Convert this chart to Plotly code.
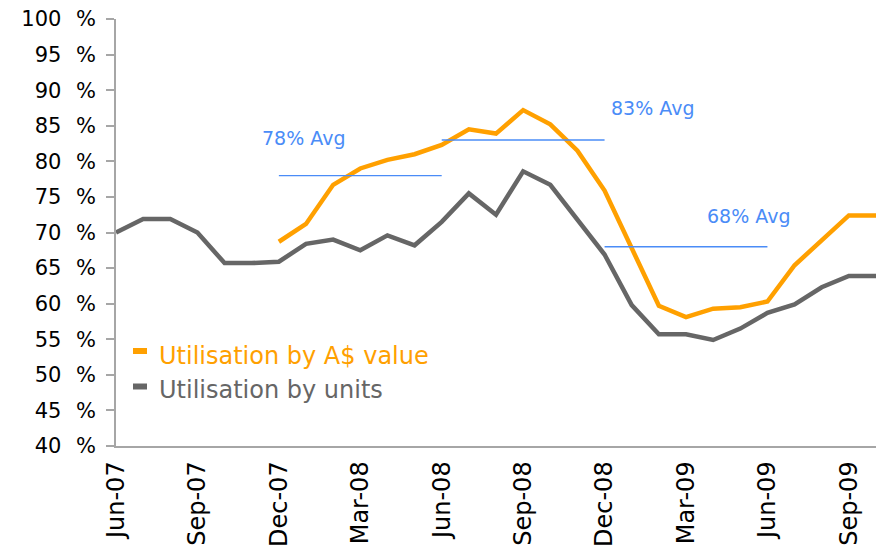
import plotly.graph_objects as go

months = ["Jun-07","Jul-07","Aug-07","Sep-07","Oct-07","Nov-07","Dec-07",
          "Jan-08","Feb-08","Mar-08","Apr-08","May-08","Jun-08","Jul-08",
          "Aug-08","Sep-08","Oct-08","Nov-08","Dec-08","Jan-09","Feb-09",
          "Mar-09","Apr-09","May-09","Jun-09","Jul-09","Aug-09","Sep-09","Oct-09"]

units = [70.0, 71.9, 71.9, 70.0, 65.7, 65.7, 65.9, 68.4, 69.0, 67.5, 69.6, 68.2,
         71.5, 75.5, 72.5, 78.6, 76.7, 71.8, 66.9, 59.8, 55.7, 55.7, 54.9, 56.5,
         58.7, 59.9, 62.3, 63.9, 63.9]

value = [None, None, None, None, None, None, 68.7, 71.2, 76.7, 79.0, 80.2, 81.0,
         82.3, 84.5, 83.9, 87.2, 85.2, 81.5, 75.9, 67.8, 59.7, 58.1, 59.3, 59.5,
         60.3, 65.4, 68.9, 72.4, 72.4]

# average periods: (start month, end month, level, label)
avg_periods = [("Dec-07", "Jun-08", 78, "78% Avg"),
               ("Jun-08", "Dec-08", 83, "83% Avg"),
               ("Dec-08", "Jun-09", 68, "68% Avg")]
avg_label_pos = [(6.9, 83.3), (19.75, 87.5), (23.3, 72.3)]

tick_labels = ["Jun-07","Sep-07","Dec-07","Mar-08","Jun-08","Sep-08","Dec-08","Mar-09","Jun-09","Sep-09"]
y_ticks = list(range(40, 101, 5))

ORANGE = "#FFA000"
GRAY = "#666666"
BLUE = "#4A8CF7"
AXIS = "#A6A6A6"
FONT = "DejaVu Sans"

L, R, T, B = 116, 876, 19, 446

idx = {m: i for i, m in enumerate(months)}
xs = list(range(len(months)))

fig = go.Figure()
fig.add_trace(go.Scatter(x=xs, y=units, mode="lines", name="Utilisation by units",
                         line=dict(color=GRAY, width=4.5), showlegend=False))
fig.add_trace(go.Scatter(x=xs, y=value, mode="lines", name="Utilisation by A$ value",
                         line=dict(color=ORANGE, width=4.5), showlegend=False))

for (s, e, lvl, lab), (lx, ly) in zip(avg_periods, avg_label_pos):
    fig.add_trace(go.Scatter(x=[idx[s], idx[e]], y=[lvl, lvl], mode="lines",
                             line=dict(color=BLUE, width=1.3), showlegend=False,
                             hoverinfo="skip"))
    fig.add_annotation(x=lx, y=ly, text=lab, showarrow=False,
                       font=dict(family=FONT, size=19, color=BLUE))

# legend (manual)
legend_items = [("Utilisation by A$ value", ORANGE, 351, 356),
                ("Utilisation by units", GRAY, 386.5, 390)]
for name, col, key_y, text_y in legend_items:
    kp = 1 - (key_y - T) / (B - T)
    tp = 1 - (text_y - T) / (B - T)
    fig.add_shape(type="line", xref="paper", yref="paper",
                  x0=(133 - L) / (R - L), x1=(147 - L) / (R - L), y0=kp, y1=kp,
                  line=dict(color=col, width=6))
    fig.add_annotation(xref="paper", yref="paper", x=(157 - L) / (R - L), y=tp,
                       xanchor="left", yanchor="middle", text=name, showarrow=False,
                       font=dict(family=FONT, size=24, color=col))

fig.update_layout(
    width=881, height=547,
    margin=dict(l=L, r=881 - R, t=T, b=547 - B, autoexpand=False),
    plot_bgcolor="white", paper_bgcolor="white",
    font=dict(family=FONT, color="black"),
)
fig.update_xaxes(range=[0, 28], tickmode="array",
                 tickvals=[idx[t] for t in tick_labels], ticktext=tick_labels,
                 tickangle=-90, tickfont=dict(size=24, family=FONT, color="black"),
                 showgrid=False, zeroline=False, showline=True, linecolor=AXIS,
                 linewidth=1.5, ticks="", ticklabelstandoff=4, automargin=False)
fig.update_yaxes(range=[40, 100], tickmode="array", tickvals=y_ticks,
                 ticktext=[f"{v}\u2002\u2009%" for v in y_ticks],
                 tickfont=dict(size=21, family=FONT, color="black"),
                 showgrid=False, zeroline=False, showline=True, linecolor=AXIS,
                 linewidth=1.5, ticks="outside", ticklen=8, tickcolor=AXIS,
                 tickwidth=1.5, ticklabelstandoff=6, automargin=False)

fig.write_html("out.html", config={"displayModeBar": False},
               post_script="document.body.style.margin='0';document.body.style.overflow='hidden';")
